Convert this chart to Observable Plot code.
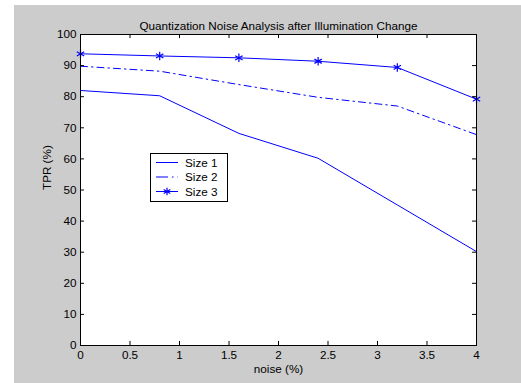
<!DOCTYPE html>
<html>
<head>
<meta charset="utf-8">
<script src="https://cdn.jsdelivr.net/npm/d3@7"></script>
<script src="https://cdn.jsdelivr.net/npm/@observablehq/plot@0.6"></script>
<style>
  html, body { margin: 0; padding: 0; background: #ffffff; }
  #wrap { position: relative; width: 521px; height: 383px; overflow: hidden; }
  #bg { position: absolute; left: 14px; top: 5px; right: 0; bottom: 0; background: #cccccc; }
  #chart { position: absolute; left: 0; top: 0; }
  #legend { position: absolute; left: 150px; top: 153px; }
</style>
</head>
<body>
<div id="wrap">
  <div id="bg"></div>
  <div id="chart"></div>
  <div id="legend"></div>
</div>
<script>
const titleText = "Quantization Noise Analysis after Illumination Change";
const xLabel = "noise (%)";
const yLabel = "TPR (%)";
const noise = [0, 0.8, 1.6, 2.4, 3.2, 4];
const size1 = [82.0, 80.3, 68.2, 60.2, 45.2, 30.2];
const size2 = [89.8, 88.2, 83.9, 79.8, 77.0, 67.8];
const size3 = [93.8, 93.1, 92.5, 91.4, 89.4, 79.2];
const seriesNames = ["Size 1", "Size 2", "Size 3"];
const xTicks = [0, 0.5, 1, 1.5, 2, 2.5, 3, 3.5, 4];
const yTicks = [0, 10, 20, 30, 40, 50, 60, 70, 80, 90, 100];

const blue = "#0000ff";
const dashDot = "7,4,1.5,4";
const font = "'Liberation Sans', Arial, Helvetica, sans-serif";
const fs = 11.7;
const fmt = (d) => String(d);

const rows = (vals) => noise.map((x, i) => ({x, y: vals[i]}));
const d1 = rows(size1), d2 = rows(size2), d3r = rows(size3);

// inward tick lengths expressed in data units (approx. 4px)
const xMin = 0, xMax = 4, yMin = 0, yMax = 100;
const tickY = 1.3, tickX = 0.04;

const chart = Plot.plot({
  width: 521,
  height: 383,
  marginLeft: 80,
  marginRight: 45,
  marginTop: 34,
  marginBottom: 38,
  style: {background: "transparent", fontFamily: font, fontSize: fs + "px", color: "#000", overflow: "visible"},
  x: {domain: [xMin, xMax]},
  y: {domain: [yMin, yMax]},
  marks: [
    Plot.frame({fill: "white", stroke: null}),
    Plot.line(d1, {x: "x", y: "y", stroke: blue, strokeWidth: 1}),
    Plot.line(d2, {x: "x", y: "y", stroke: blue, strokeWidth: 1, strokeDasharray: dashDot}),
    Plot.line(d3r, {x: "x", y: "y", stroke: blue, strokeWidth: 1}),
    Plot.dot(d3r, {x: "x", y: "y", symbol: "asterisk", stroke: blue, strokeWidth: 1.2, r: 4}),
    Plot.axisX(xTicks, {anchor: "bottom", tickSize: 0, tickPadding: 5, tickFormat: fmt, label: null, fill: "#000", fontSize: fs}),
    Plot.axisY(yTicks, {anchor: "left", tickSize: 0, tickPadding: 4, tickFormat: fmt, label: null, fill: "#000", fontSize: fs}),
    Plot.ruleX(xTicks, {x: (d) => d, y1: yMin, y2: yMin + tickY, stroke: "#000"}),
    Plot.ruleX(xTicks, {x: (d) => d, y1: yMax, y2: yMax - tickY, stroke: "#000"}),
    Plot.ruleY(yTicks, {y: (d) => d, x1: xMin, x2: xMin + tickX, stroke: "#000"}),
    Plot.ruleY(yTicks, {y: (d) => d, x1: xMax, x2: xMax - tickX, stroke: "#000"}),
    Plot.frame({stroke: "#000", strokeWidth: 1}),
    Plot.text([titleText], {frameAnchor: "top", dy: -13, fill: "#000", fontSize: fs}),
    Plot.text([xLabel], {frameAnchor: "bottom", dy: 27, fill: "#000", fontSize: fs}),
    Plot.text([yLabel], {frameAnchor: "left", dx: -33, rotate: -90, fill: "#000", fontSize: fs})
  ]
});
document.getElementById("chart").appendChild(chart);

// Legend box
const lw = 77, lh = 48;
const leg = d3.select("#legend").append("svg")
  .attr("width", lw + 1).attr("height", lh + 1)
  .style("font-family", font).style("font-size", fs + "px");
leg.append("rect").attr("x", 0.5).attr("y", 0.5).attr("width", lw).attr("height", lh)
  .attr("fill", "white").attr("stroke", "#000");
const styles = [{dash: null, star: false}, {dash: dashDot, star: false}, {dash: null, star: true}];
seriesNames.forEach((name, i) => {
  const cy = 9.5 + i * 14.5;
  const ln = leg.append("line").attr("x1", 6).attr("x2", 28).attr("y1", cy).attr("y2", cy)
    .attr("stroke", blue).attr("stroke-width", 1);
  if (styles[i].dash) ln.attr("stroke-dasharray", "12,4,1.5,4");
  if (styles[i].star) {
    leg.append("path").attr("d", d3.symbol(d3.symbolAsterisk, 40)())
      .attr("transform", `translate(17,${cy})`).attr("stroke", blue).attr("stroke-width", 1.2).attr("fill", "none");
  }
  leg.append("text").attr("x", 35).attr("y", cy).attr("dy", "0.35em").attr("fill", "#000").text(name);
});
</script>
</body>
</html>
